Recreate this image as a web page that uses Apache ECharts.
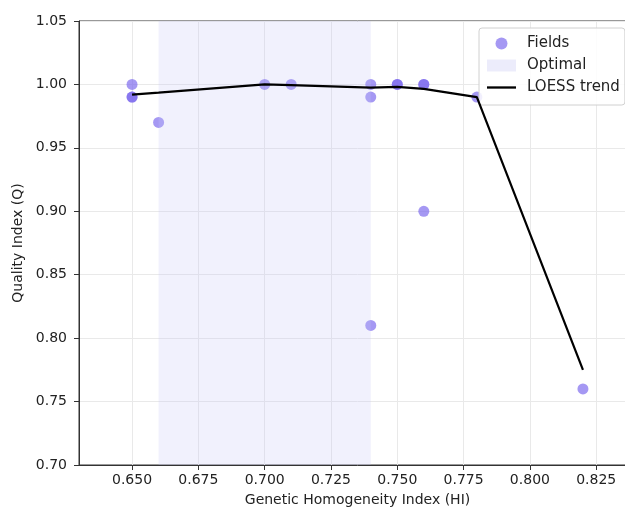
<!DOCTYPE html>
<html>
<head>
<meta charset="utf-8">
<script src="https://cdn.jsdelivr.net/npm/echarts@6/dist/echarts.min.js"></script>
<style>html,body{margin:0;padding:0;background:#fff;overflow:hidden}#c{width:640px;height:512px}</style>
</head>
<body>
<div id="c"></div>
<script>
// Field observations (HI, Q)
var fieldHI = [0.65, 0.65, 0.65, 0.66, 0.70, 0.71, 0.74, 0.74, 0.74, 0.75, 0.75, 0.76, 0.76, 0.76, 0.78, 0.82];
var fieldQ  = [1.00, 0.99, 0.99, 0.97, 1.00, 1.00, 1.00, 0.99, 0.81, 1.00, 1.00, 1.00, 1.00, 0.90, 0.99, 0.76];
// LOESS trend
var loessHI = [0.65, 0.66, 0.70, 0.71, 0.74, 0.75, 0.76, 0.78, 0.82];
var loessQ  = [0.992, 0.9935, 1.000, 0.9995, 0.9975, 0.998, 0.9965, 0.990, 0.775];
// Optimal band
var optimalRange = [0.66, 0.74];
// Tick labels
var xTicks = [0.650, 0.675, 0.700, 0.725, 0.750, 0.775, 0.800, 0.825];

var chart = echarts.init(document.getElementById('c'));
var font = 'DejaVu Sans';
var bandColor = 'rgba(195,195,245,0.24)';
chart.setOption({
  animation: false,
  textStyle: {fontFamily: font},
  grid: {left: 79, top: 21, bottom: 47, right: 4, show: true, borderColor: '#333', borderWidth: 1, containLabel: false},
  xAxis: {
    type: 'value', min: 0.63, max: 0.84,
    name: 'Genetic Homogeneity Index (HI)', nameLocation: 'middle', nameGap: 28,
    nameTextStyle: {fontSize: 14, color: '#222', fontFamily: font},
    axisLine: {show: true, onZero: false, lineStyle: {color: '#333'}},
    axisTick: {show: true, length: 5, lineStyle: {color: '#333'}, customValues: xTicks},
    axisLabel: {fontSize: 14, color: '#222', margin: 8, customValues: xTicks, formatter: function(v){return v.toFixed(3);}},
    splitLine: {show: true, lineStyle: {color: '#e9e9e9', width: 1}}
  },
  yAxis: {
    type: 'value', min: 0.70, max: 1.05, interval: 0.05,
    name: 'Quality Index (Q)', nameLocation: 'middle', nameGap: 52, nameRotate: 90,
    nameTextStyle: {fontSize: 14, color: '#222', fontFamily: font},
    axisLine: {show: true, lineStyle: {color: '#333'}},
    axisTick: {show: true, length: 5, lineStyle: {color: '#333'}},
    axisLabel: {fontSize: 14, color: '#222', margin: 12, formatter: function(v){return v.toFixed(2);}},
    splitLine: {show: true, lineStyle: {color: '#e9e9e9', width: 1}}
  },
  legend: {
    orient: 'vertical', left: 479, top: 28,
    padding: [8, 5, 10, 8], itemGap: 7, itemWidth: 29, itemHeight: 12,
    backgroundColor: 'rgba(255,255,255,0.85)', borderColor: '#d0d0d0', borderWidth: 1, borderRadius: 3,
    textStyle: {fontSize: 15, color: '#222', fontFamily: font, padding: [0, 0, 0, 6]},
    data: [
      {name: 'Fields', icon: 'circle'},
      {name: 'Optimal', icon: 'rect'},
      {name: 'LOESS trend', icon: 'path://M0,0H30V2.4H0Z'}
    ]
  },
  series: [
    {
      name: 'Fields', type: 'scatter', z: 2, symbolSize: 11,
      itemStyle: {color: 'rgba(123,104,238,0.85)'},
      data: fieldHI.map(function(x, i){return [x, fieldQ[i]];})
    },
    {
      name: 'Optimal', type: 'line', z: 3, data: [],
      itemStyle: {color: 'rgba(236,236,251,1)'},
      lineStyle: {color: 'rgba(236,236,251,1)'},
      markArea: {
        silent: true, z: 3,
        itemStyle: {color: bandColor},
        data: [[{xAxis: optimalRange[0]}, {xAxis: optimalRange[1]}]]
      }
    },
    {
      name: 'LOESS trend', type: 'line', z: 4, symbol: 'none',
      itemStyle: {color: '#000'},
      lineStyle: {color: '#000', width: 2.2},
      data: loessHI.map(function(x, i){return [x, loessQ[i]];})
    }
  ]
});
</script>
</body>
</html>
